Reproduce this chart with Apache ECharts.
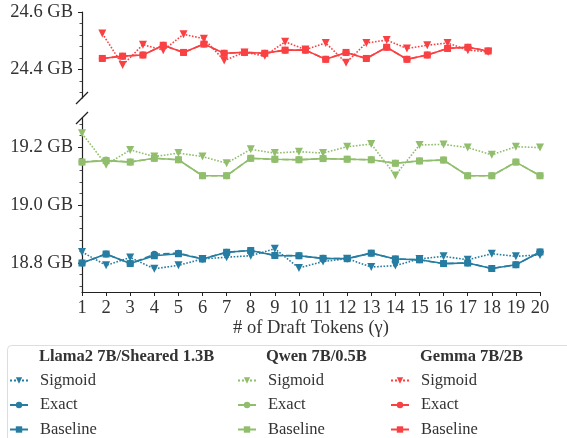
<!DOCTYPE html>
<html>
<head>
<meta charset="utf-8">
<script src="https://cdn.jsdelivr.net/npm/echarts@6.0.0/dist/echarts.min.js"></script>
<style>
    html, body { margin: 0; padding: 0; background: #fff; }
    #chart_memory { width: 567px; height: 438px; }
</style>
</head>
<body>
<div id="chart_memory"></div>
<script>
var draftTokens = [1, 2, 3, 4, 5, 6, 7, 8, 9, 10, 11, 12, 13, 14, 15, 16, 17, 18, 19, 20];

/*Llama2 7B/Sheared 1.3B*/
var llamaSigmoid = [18.838, 18.792, 18.819, 18.780, 18.792, 18.814, 18.820, 18.825, 18.849, 18.783, 18.805, 18.815, 18.786, 18.791, 18.814, 18.823, 18.811, 18.832, 18.823, 18.828];
var llamaExact = [18.800, 18.831, 18.798, 18.830, 18.834, 18.814, 18.837, 18.843, 18.826, 18.825, 18.816, 18.815, 18.834, 18.814, 18.811, 18.798, 18.800, 18.781, 18.794, 18.838];
var llamaBaseline = [18.800, 18.831, 18.798, 18.825, 18.832, 18.814, 18.837, 18.843, 18.826, 18.825, 18.816, 18.815, 18.834, 18.814, 18.811, 18.798, 18.800, 18.781, 18.794, 18.838];

/*Qwen 7B/0.5B*/
var qwenSigmoid = [19.247, 19.139, 19.190, 19.167, 19.179, 19.167, 19.144, 19.192, 19.179, 19.184, 19.179, 19.201, 19.210, 19.102, 19.207, 19.209, 19.198, 19.173, 19.201, 19.198];
var qwenExact = [19.148, 19.155, 19.148, 19.161, 19.156, 19.101, 19.101, 19.161, 19.157, 19.156, 19.160, 19.158, 19.156, 19.144, 19.152, 19.155, 19.101, 19.101, 19.148, 19.101];
var qwenBaseline = [19.148, 19.153, 19.148, 19.161, 19.156, 19.101, 19.101, 19.161, 19.158, 19.156, 19.160, 19.158, 19.156, 19.144, 19.152, 19.155, 19.101, 19.101, 19.148, 19.101];

/*Gemma 7B/2B*/
var gemmaSigmoid = [24.525, 24.415, 24.486, 24.467, 24.522, 24.507, 24.431, 24.459, 24.447, 24.496, 24.469, 24.492, 24.423, 24.492, 24.502, 24.473, 24.484, 24.492, 24.467, 24.461];
var gemmaExact = [24.438, 24.446, 24.450, 24.484, 24.459, 24.488, 24.456, 24.459, 24.456, 24.467, 24.467, 24.435, 24.459, 24.438, 24.477, 24.435, 24.450, 24.473, 24.477, 24.464];
var gemmaBaseline = [24.438, 24.446, 24.450, 24.484, 24.459, 24.488, 24.456, 24.459, 24.456, 24.467, 24.467, 24.435, 24.459, 24.438, 24.477, 24.435, 24.450, 24.473, 24.477, 24.464];

/*刻度*/
var topMajorTicks = [24.4, 24.6];
var topMinorTicks = [24.32, 24.36, 24.44, 24.48, 24.52, 24.56];
var bottomMajorTicks = [18.8, 19.0, 19.2];
var bottomMinorTicks = [18.72, 18.76, 18.84, 18.88, 18.92, 18.96, 19.04, 19.08, 19.12, 19.16, 19.24, 19.28];

var modelNames = ['Llama2 7B/Sheared 1.3B', 'Qwen 7B/0.5B', 'Gemma 7B/2B'];
var methodNames = ['Sigmoid', 'Exact', 'Baseline'];

var colors = ['#277da1', '#90be6d', '#f94144'];
var fontFamily = 'Liberation Serif';
var textColor = '#333333';

function toPairs(values) {
    var arr = [];
    for (var i = 0; i < values.length; i++) {
        arr.push([draftTokens[i], values[i]]);
    }
    return arr;
}

function gbLabel(value) {
    return value.toFixed(1) + ' GB';
}

function makeSeries(model, method, color, values, panel) {
    var style = {
        "Sigmoid": { type: 'dotted', symbol: 'triangle', rotate: 180, size: 8 },
        "Exact": { type: 'dashed', symbol: 'circle', rotate: 0, size: 7 },
        "Baseline": { type: 'solid', symbol: 'rect', rotate: 0, size: 7 }
    }[method];
    return {
        name: model + '|' + method,
        type: 'line',
        xAxisIndex: panel,
        yAxisIndex: panel * 2,
        data: toPairs(values),
        symbol: style.symbol,
        symbolRotate: style.rotate,
        symbolSize: style.size,
        showAllSymbol: true,
        color: color,
        itemStyle: { color: color, opacity: 1 },
        lineStyle: { color: color, width: 1.6, type: style.type },
        emphasis: { disabled: true }
    };
}

function majorAxis(grid, min, max, ticks) {
    return {
        type: 'value',
        gridIndex: grid,
        position: 'left',
        min: min,
        max: max,
        splitLine: { show: false },
        axisLine: { show: true, lineStyle: { color: '#222222', width: 1.2 } },
        axisTick: { show: true, length: 4, customValues: ticks, lineStyle: { color: '#222222', width: 1 } },
        axisLabel: {
            customValues: ticks,
            formatter: gbLabel,
            margin: 9,
            color: textColor,
            fontFamily: fontFamily,
            fontSize: 18.5
        }
    };
}

function minorAxis(grid, min, max, ticks) {
    return {
        type: 'value',
        gridIndex: grid,
        position: 'left',
        min: min,
        max: max,
        splitLine: { show: false },
        axisLine: { show: false },
        axisTick: { show: true, length: 2.5, customValues: ticks, lineStyle: { color: '#222222', width: 0.8 } },
        axisLabel: { show: false }
    };
}

function legendColumn(model, left) {
    var names = [];
    for (var i = 0; i < methodNames.length; i++) {
        names.push(model + '|' + methodNames[i]);
    }
    return {
        data: names,
        orient: 'vertical',
        left: left,
        top: 372,
        padding: 0,
        itemWidth: 18,
        itemHeight: 8,
        itemGap: 7.5,
        selectedMode: false,
        formatter: function (name) {
            return name.split('|')[1];
        },
        textStyle: {
            color: textColor,
            fontFamily: fontFamily,
            fontSize: 16.5,
            lineHeight: 16,
            padding: [0, 0, 0, 7]
        }
    };
}

function headerTitle(text, left) {
    return {
        text: text,
        left: left,
        top: 348,
        padding: 0,
        textStyle: {
            color: textColor,
            fontFamily: fontFamily,
            fontSize: 16.5,
            fontWeight: 'bold'
        }
    };
}

var chart_memory = null;
function initChart() {
    chart_memory = echarts.init(document.getElementById('chart_memory'));

    var series = [];
    var allValues = [
        [llamaSigmoid, llamaExact, llamaBaseline],
        [qwenSigmoid, qwenExact, qwenBaseline],
        [gemmaSigmoid, gemmaExact, gemmaBaseline]
    ];
    for (var m = 0; m < modelNames.length; m++) {
        var panel = m === 2 ? 0 : 1;
        for (var k = 0; k < methodNames.length; k++) {
            series.push(makeSeries(modelNames[m], methodNames[k], colors[m], allValues[m][k], panel));
        }
    }

    var option = {
        animation: false,
        backgroundColor: '#ffffff',
        textStyle: { fontFamily: fontFamily },
        title: [
            headerTitle(modelNames[0], 39),
            headerTitle(modelNames[1], 266),
            headerTitle(modelNames[2], 420)
        ],
        legend: [
            legendColumn(modelNames[0], 9),
            legendColumn(modelNames[1], 237),
            legendColumn(modelNames[2], 390)
        ],
        grid: [
            { left: 82, top: 12, width: 458, height: 86 },
            { left: 82, top: 118, width: 458, height: 174 }
        ],
        xAxis: [
            {
                type: 'value',
                gridIndex: 0,
                min: 0,
                max: 22.55,
                show: false
            },
            {
                type: 'value',
                gridIndex: 1,
                min: 1,
                max: 20,
                interval: 1,
                splitLine: { show: false },
                axisLine: { show: true, onZero: false, lineStyle: { color: '#222222', width: 1.2 } },
                axisTick: { show: true, length: 4, lineStyle: { color: '#222222', width: 1 } },
                axisLabel: {
                    margin: 7,
                    color: textColor,
                    fontFamily: fontFamily,
                    fontSize: 18.5
                },
                name: '# of Draft Tokens (γ)',
                nameLocation: 'middle',
                nameGap: 25,
                nameTextStyle: {
                    color: textColor,
                    fontFamily: fontFamily,
                    fontSize: 18.5
                }
            }
        ],
        yAxis: [
            majorAxis(0, 24.3, 24.6, topMajorTicks),
            minorAxis(0, 24.3, 24.6, topMinorTicks),
            majorAxis(1, 18.7, 19.3, bottomMajorTicks),
            minorAxis(1, 18.7, 19.3, bottomMinorTicks)
        ],
        series: series
    };
    chart_memory.setOption(option);
    addDecorations();
}

/*断轴标记和图例框*/
function addDecorations() {
    var topEnd = chart_memory.convertToPixel({ gridIndex: 0 }, [0, 24.3]);
    var bottomStart = chart_memory.convertToPixel({ gridIndex: 1 }, [1, 19.3]);
    var d = 6;
    var breakStyle = { stroke: '#222222', lineWidth: 1.2 };
    chart_memory.setOption({
        graphic: [
            {
                type: 'line',
                shape: { x1: topEnd[0] - d, y1: topEnd[1] + d, x2: topEnd[0] + d, y2: topEnd[1] - d },
                style: breakStyle,
                silent: true
            },
            {
                type: 'line',
                shape: { x1: bottomStart[0] - d, y1: bottomStart[1] + d, x2: bottomStart[0] + d, y2: bottomStart[1] - d },
                style: breakStyle,
                silent: true
            },
            {
                type: 'rect',
                shape: { x: 7.5, y: 345.5, width: 580, height: 110, r: 4 },
                style: { fill: 'none', stroke: '#dddddd', lineWidth: 1 },
                silent: true,
                z: -1
            }
        ]
    });
}

initChart();
</script>
</body>
</html>
